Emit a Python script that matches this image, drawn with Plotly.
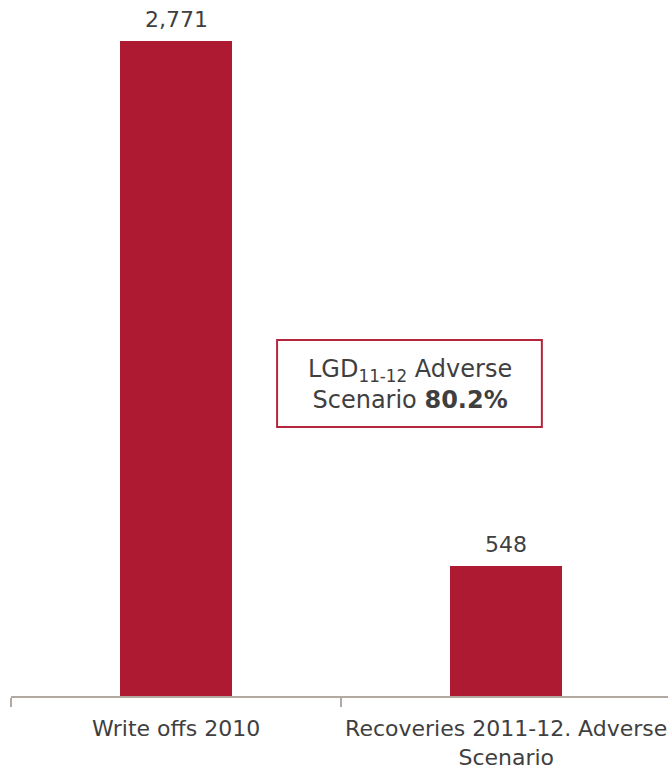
import plotly.graph_objects as go

# Loss-given-default inputs
categories = ["Write offs 2010", "Recoveries 2011-12. Adverse<br>Scenario"]
values = [2771, 548]
lgd_label = "LGD<sub>11-12</sub> Adverse<br>Scenario <b>80.2%</b>"

BAR_RED = "#AE1A31"
TEXT_GREY = "#3F3F3F"
AXIS_GREY = "#B2AAA0"
FONT = "DejaVu Sans, Verdana, sans-serif"

fig = go.Figure()
fig.add_trace(go.Bar(
    x=categories,
    y=values,
    width=0.34,
    marker=dict(color=BAR_RED, line=dict(width=0)),
    hoverinfo="skip",
))

# value labels above each bar
for cat, val in zip(categories, values):
    fig.add_annotation(
        x=cat, y=val, xref="x", yref="y",
        text=f"{val:,}",
        showarrow=False, yanchor="bottom", yshift=7,
        font=dict(family=FONT, size=22, color=TEXT_GREY),
    )

# boxed LGD call-out
fig.add_shape(
    type="rect", xref="paper", yref="paper",
    x0=0.405, x1=0.808, y0=0.3865, y1=0.5115,
    line=dict(color="#B5253B", width=2), fillcolor="white",
)
fig.add_annotation(
    xref="paper", yref="paper", x=0.6066, y=0.447,
    text=lgd_label, showarrow=False, align="center",
    font=dict(family=FONT, size=24, color=TEXT_GREY),
)

fig.update_layout(
    width=668, height=772,
    margin=dict(l=11, r=0, t=0, b=76),
    paper_bgcolor="white", plot_bgcolor="white",
    showlegend=False,
    bargap=0,
    font=dict(family=FONT, color=TEXT_GREY),
)
fig.update_xaxes(
    type="category", range=[-0.5, 1.49],
    showline=True, linecolor=AXIS_GREY, linewidth=2,
    ticks="outside", tickson="boundaries", ticklen=9, tickwidth=2, tickcolor=AXIS_GREY,
    ticklabelstandoff=12,
    tickfont=dict(family=FONT, size=22, color=TEXT_GREY),
    showgrid=False, zeroline=False,
)
fig.update_yaxes(
    range=[0, 2945], visible=False, showgrid=False, zeroline=False,
)

fig.write_html("out.html")
